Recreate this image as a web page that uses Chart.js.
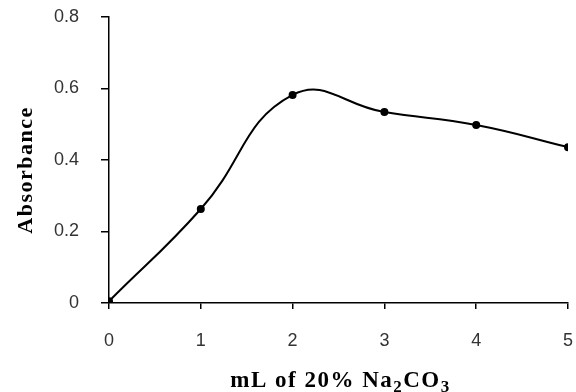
<!DOCTYPE html>
<html>
<head>
<meta charset="utf-8">
<script src="https://cdn.jsdelivr.net/npm/chart.js@4.4.1/dist/chart.umd.min.js"></script>
<style>
  html, body { margin: 0; padding: 0; background: #fff; }
  #wrap { width: 576px; height: 392px; }
</style>
</head>
<body>
<div id="wrap"><canvas id="chart" width="576" height="392"></canvas></div>
<script>
// mL of 20% Na2CO3 vs absorbance
const volumes = [0, 1, 2, 3, 4, 5];
const absorbance = [0.005, 0.263, 0.582, 0.534, 0.498, 0.436];
const yTicks = [0, 0.2, 0.4, 0.6, 0.8];

// axis titles drawn by hand so the subscripts and letter spacing look right
const axisTitles = {
  id: 'axisTitles',
  afterDraw(chart) {
    const ctx = chart.ctx;
    const area = chart.chartArea;
    ctx.save();
    ctx.fillStyle = '#000';

    // y title
    ctx.save();
    ctx.translate(26, (area.top + area.bottom) / 2 + 10);
    ctx.rotate(-Math.PI / 2);
    ctx.textAlign = 'center';
    ctx.textBaseline = 'middle';
    ctx.letterSpacing = '1.5px';
    ctx.font = 'bold 22px "Liberation Serif"';
    ctx.fillText('Absorbance', 0, 0);
    ctx.restore();

    // x title with subscripts
    const parts = [['mL of 20% Na', false], ['2', true], ['CO', false], ['3', true]];
    const big = 'bold 23px "Liberation Serif"';
    const small = 'bold 17px "Liberation Serif"';
    ctx.letterSpacing = '1.5px';
    let w = 0;
    parts.forEach(p => { ctx.font = p[1] ? small : big; w += ctx.measureText(p[0]).width; });
    let x = (area.left + area.right) / 2 + 2 - w / 2;
    const y = 387;
    ctx.textAlign = 'left';
    ctx.textBaseline = 'alphabetic';
    parts.forEach(p => {
      ctx.font = p[1] ? small : big;
      ctx.fillText(p[0], x, p[1] ? y + 5 : y);
      x += ctx.measureText(p[0]).width;
    });
    ctx.restore();
  }
};

function noPad(s) {
  s.paddingLeft = 0; s.paddingRight = 0; s.paddingTop = 0; s.paddingBottom = 0;
}

new Chart(document.getElementById('chart').getContext('2d'), {
  type: 'line',
  data: {
    datasets: [{
      data: volumes.map((v, i) => ({ x: v, y: absorbance[i] })),
      borderColor: '#000',
      backgroundColor: '#000',
      borderWidth: 2,
      pointRadius: 3,
      pointBackgroundColor: '#000',
      tension: 0.45,
      fill: false
    }]
  },
  options: {
    responsive: false,
    animation: false,
    layout: { autoPadding: false, padding: { top: 17, right: 8, left: 0, bottom: 0 } },
    plugins: { legend: { display: false }, tooltip: { enabled: false } },
    scales: {
      x: {
        type: 'linear',
        min: 0,
        max: 5,
        afterFit: s => { s.height = 89; noPad(s); },
        ticks: { stepSize: 1, color: '#333', padding: 21, font: { family: '"Liberation Sans"', size: 18 } },
        grid: { drawOnChartArea: false, drawTicks: true, tickLength: 6, color: '#000', lineWidth: 1.5 },
        border: { display: true, color: '#000', width: 1.5 }
      },
      y: {
        min: 0,
        max: 0.8,
        afterFit: s => { s.width = 109; noPad(s); },
        afterBuildTicks: s => { s.ticks = yTicks.map(v => ({ value: v })); },
        ticks: {
          color: '#333',
          padding: 22,
          font: { family: '"Liberation Sans"', size: 18 },
          callback: v => v === 0 ? '0' : v.toFixed(1)
        },
        grid: { drawOnChartArea: false, drawTicks: true, tickLength: 8, color: '#000', lineWidth: 1.5 },
        border: { display: true, color: '#000', width: 1.5 }
      }
    }
  },
  plugins: [axisTitles]
});
</script>
</body>
</html>
